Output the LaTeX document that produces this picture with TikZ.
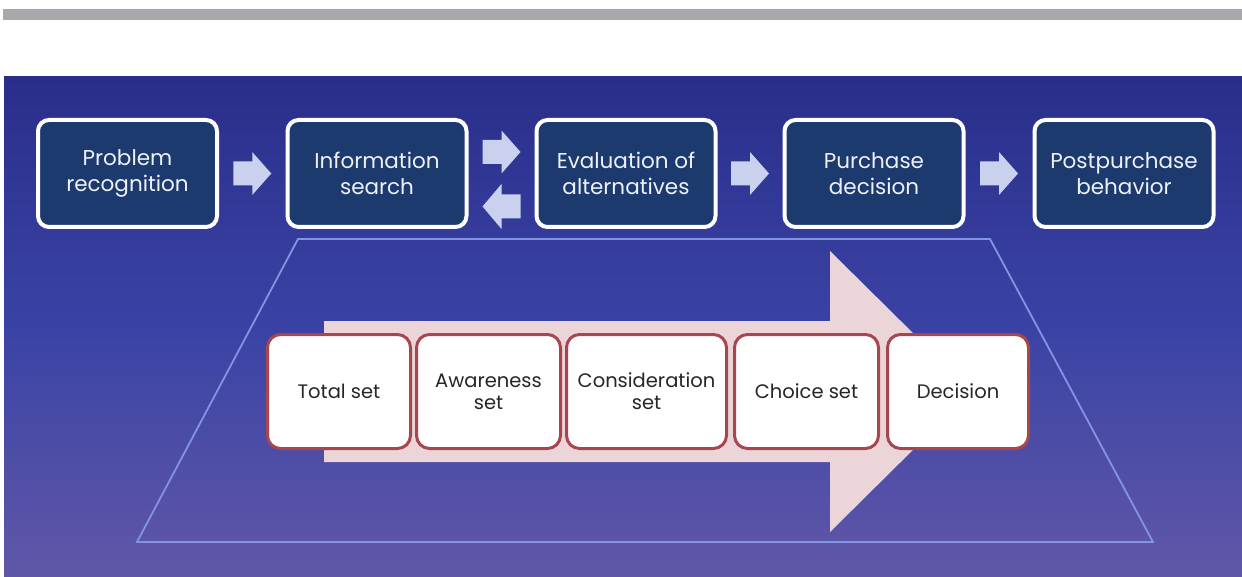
\documentclass[tikz,border=0pt]{standalone}
\usepackage{fontspec}
\setmainfont{Poppins}
\usetikzlibrary{calc}

\definecolor{barGray}{HTML}{A8A9AC}
\definecolor{bgTop}{HTML}{2A2E8A}
\definecolor{bgMid}{HTML}{3A43A5}
\definecolor{bgBottom}{HTML}{6157A8}
\definecolor{stageFill}{HTML}{1C3A6E}
\definecolor{stageText}{HTML}{EEF1F8}
\definecolor{chevron}{HTML}{C9D1EE}
\definecolor{funnelLine}{HTML}{8395E0}
\definecolor{flowPink}{HTML}{EBD5D8}
\definecolor{setBorder}{HTML}{A8464E}

\tikzset{
  stage/.style={draw=white, line width=4pt, fill=stageFill, rounded corners=11pt,
    minimum width=179pt, minimum height=107pt, inner sep=0pt, align=center,
    text=stageText, font=\fontsize{21.5}{26}\selectfont},
  setbox/.style={draw=setBorder, line width=3pt, fill=white, rounded corners=13pt,
    minimum height=114pt, inner sep=0pt, align=center,
    text=black!85, font=\fontsize{19.5}{22}\selectfont},
  rchev/.pic={\fill[chevron] (-19,-12) -- (0,-12) -- (0,-21.5) -- (19,0)
      -- (0,21.5) -- (0,12) -- (-19,12) -- cycle;},
  lchev/.pic={\fill[chevron] (19,-12) -- (0,-12) -- (0,-22.5) -- (-19,0)
      -- (0,22.5) -- (0,12) -- (19,12) -- cycle;}
}

\begin{document}
\begin{tikzpicture}[x=1pt,y=-1pt]
  \useasboundingbox (0,0) rectangle (1242,577);

  % header rule and slide background
  \fill[barGray] (3,9) rectangle (1242,20.5);
  \shade[top color=bgTop, bottom color=bgMid] (4,77) rectangle (1242,330);
  \shade[top color=bgMid, bottom color=bgBottom] (4,329.5) rectangle (1242,577);

  % the five stages of the buying process
  \node[stage] (prob) at (127.5,173.5) {Problem\\recognition};
  \node[stage] (info) at (377,173.5)   {Information\\search};
  \node[stage] (eval) at (626,173.5)   {Evaluation of\\alternatives};
  \node[stage] (purc) at (874,173.5)   {Purchase\\decision};
  \node[stage] (post) at (1124,173.5)  {Postpurchase\\behavior};

  % chevrons between the stages
  \pic at ($(prob.east)!0.5!(info.west)$) {rchev};
  \pic at ($(info.east)!0.5!(eval.west) + (0,-21.5)$) {rchev};
  \pic at ($(info.east)!0.5!(eval.west) + (0,33)$) {lchev};
  \pic at ($(eval.east)!0.5!(purc.west)$) {rchev};
  \pic at ($(purc.east)!0.5!(post.west)$) {rchev};

  % funnel outline under the evaluation stage
  \draw[funnelLine, line width=1.8pt, line join=miter]
    (298,239) -- (990,239) -- (1153,542) -- (137,542) -- cycle;

  % broad arrow behind the set boxes
  \fill[flowPink] (324,321) -- (830,321) -- (830,251) -- (972,391.5)
    -- (830,532) -- (830,462) -- (324,462) -- cycle;

  % successive narrowing of the brand sets
  \node[setbox, minimum width=143pt] (total) at (339,391.5)   {Total set};
  \node[setbox, minimum width=144pt] (aware) at (488.5,391.5) {Awareness\\set};
  \node[setbox, minimum width=160pt] (consi) at (646.5,391.5) {Consideration\\set};
  \node[setbox, minimum width=144pt] (choic) at (806.5,391.5) {Choice set};
  \node[setbox, minimum width=141pt] (decis) at (958,391.5)   {Decision};
\end{tikzpicture}
\end{document}
